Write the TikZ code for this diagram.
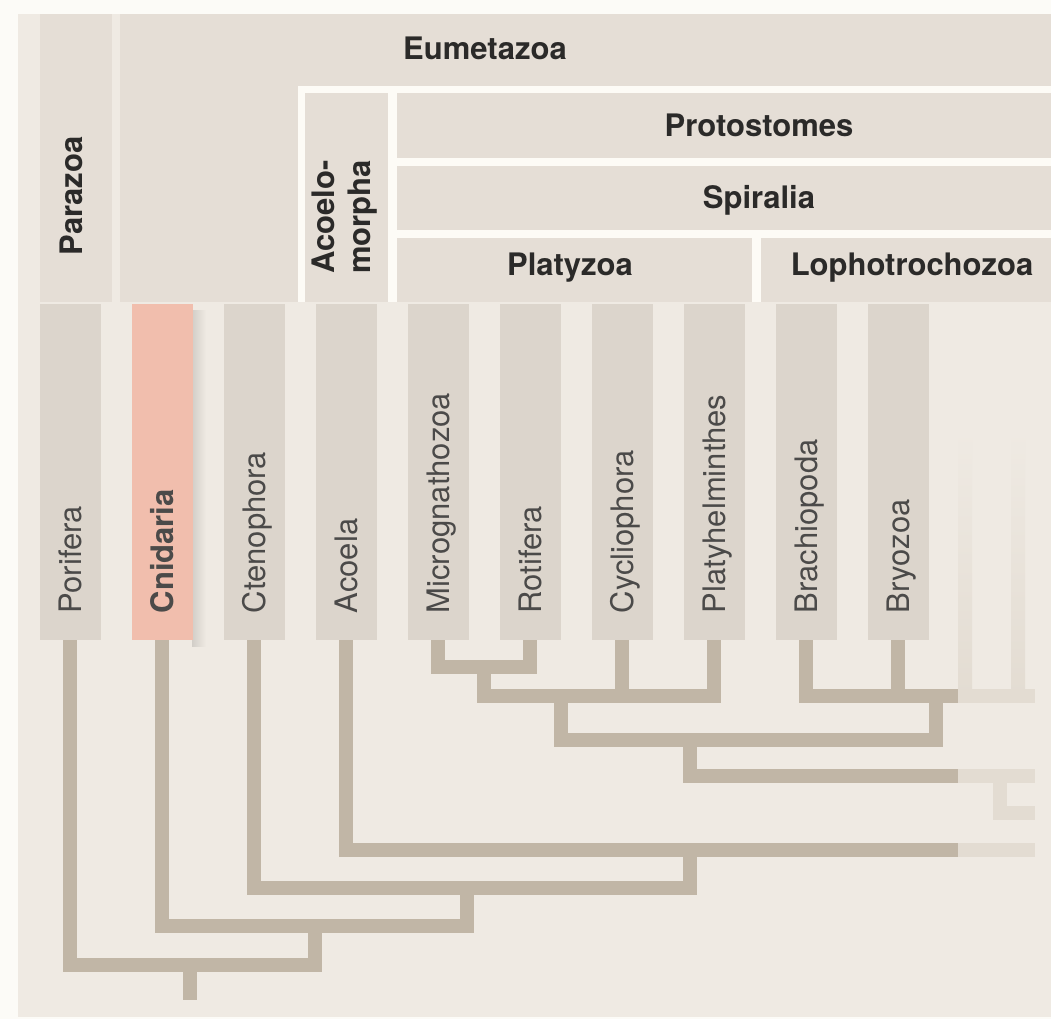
\documentclass[tikz,border=0pt]{standalone}
\usepackage{fontspec}
\setmainfont{TeX Gyre Heros}
\usepackage{tikz}
\definecolor{outerbg}{HTML}{FCFBF7}
\definecolor{panelbg}{HTML}{EFEAE3}
\definecolor{headbg}{HTML}{E5DED6}
\definecolor{taxbg}{HTML}{DCD5CC}
\definecolor{cnidbg}{HTML}{F1BEAD}
\definecolor{sepcol}{HTML}{FDFBF6}
\definecolor{treecol}{HTML}{C1B6A6}
\definecolor{fadecol}{HTML}{E3DCD2}
\definecolor{shadowcol}{HTML}{D2CEC8}
\definecolor{inkcol}{HTML}{2B2A29}
\tikzstyle{taxon}=[fill=taxbg,minimum width=61pt,minimum height=336pt,inner sep=0pt,anchor=north]
\tikzstyle{taxonhi}=[taxon,fill=cnidbg]
\tikzstyle{taxlabel}=[rotate=90,anchor=base west,inner sep=0pt,text=inkcol!85,font=\fontsize{31}{34}\selectfont]
\tikzstyle{clade}=[inner sep=0pt,anchor=base,text=inkcol,font=\fontsize{31}{36}\selectfont\bfseries]
\tikzstyle{branch}=[draw=treecol,line width=14pt,line join=miter]
\tikzstyle{faded}=[draw=fadecol,line width=14pt]

\begin{document}
\begin{tikzpicture}[x=1pt,y=-1pt]
  \useasboundingbox (0,0) rectangle (1051,1019);
  \fill[outerbg] (0,0) rectangle (1051,1019);
  \fill[panelbg] (18,14) rectangle (1051,1017);

  % clade headers
  \fill[headbg] (40,14) rectangle (112,302);
  \fill[headbg] (120,14) rectangle (1051,302);
  \fill[sepcol] (298,86) rectangle (1051,93);
  \fill[sepcol] (298,86) rectangle (305,302);
  \fill[sepcol] (388,93) rectangle (397,302);
  \fill[sepcol] (397,158) rectangle (1051,166);
  \fill[sepcol] (397,230) rectangle (1051,238);
  \fill[sepcol] (752,238) rectangle (761,302);

  \node[clade] (eum) at (485,60) {Eumetazoa};
  \node[clade] (pro) at (759,137) {Protostomes};
  \node[clade] (spi) at (759,208) {Spiralia};
  \node[clade] (pla) at (570,275) {Platyzoa};
  \node[clade] (lop) at (912,275) {Lophotrochozoa};
  \node[clade,rotate=90] (par) at (82,196) {Parazoa};
  \node[clade,rotate=90,anchor=center,align=left] (acm) at (345,217) {Acoelo-\\morpha};

  % taxa
  \shade[left color=shadowcol,right color=panelbg] (192,310) rectangle (206,646);
  \node[taxonhi] (t2) at (162,304) {};
  \node[taxlabel,font=\fontsize{31}{34}\selectfont\bfseries] (l2) at ([xshift=11pt,yshift=27pt]t2.south) {Cnidaria};
  \foreach \i/\lab in {1/Porifera,3/Ctenophora,4/Acoela,5/Micrognathozoa,6/Rotifera,
                       7/Cycliophora,8/Platyhelminthes,9/Brachiopoda,10/Bryozoa}{
    \node[taxon] (t\i) at (70+92*\i-92,304) {};
    \node[taxlabel] (l\i) at ([xshift=11pt,yshift=27pt]t\i.south) {\lab};
  }

  % tree
  \coordinate (mr) at (484,667);
  \coordinate (pz) at (561,696);
  \coordinate (lo) at (936,696);
  \coordinate (sp) at (690,740);
  \coordinate (bi) at (690,850);
  \coordinate (ct) at (467,888);
  \coordinate (cn) at (315,926);
  \coordinate (po) at (190,965);
  \coordinate (root) at (190,1000);
  \coordinate (e1) at (958,696);
  \coordinate (e2) at (958,776);
  \coordinate (e3) at (958,850);
  \coordinate (f1) at (1035,696);
  \coordinate (f2) at (1035,776);
  \coordinate (f3) at (1035,850);
  \coordinate (f4) at (1035,813);
  \coordinate (k2) at (1000,776);

  \shade[top color=panelbg,bottom color=fadecol] (958,430) rectangle (972,696);
  \shade[top color=panelbg,bottom color=fadecol] (1011,430) rectangle (1025,696);
  \draw[faded] (e1) -- (f1);
  \draw[faded] (e2) -- (f2);
  \draw[faded] (k2) |- (f4);
  \draw[faded] (e3) -- (f3);

  \draw[branch] (t5.south) |- (mr) -| (t6.south);
  \draw[branch] (mr) |- (t8.south |- pz) -- (t8.south);
  \draw[branch] (t7.south) -- (t7.south |- pz);
  \draw[branch] (t9.south) |- (e1);
  \draw[branch] (t10.south) -- (t10.south |- lo);
  \draw[branch] (pz) |- (lo |- sp) -- (lo);
  \draw[branch] (sp) |- (e2);
  \draw[branch] (t4.south) |- (e3);
  \draw[branch] (t3.south) |- (bi |- ct) -- (bi);
  \draw[branch] (t2.south) |- (ct |- cn) -- (ct);
  \draw[branch] (t1.south) |- (cn |- po) -- (cn);
  \draw[branch] (po) -- (root);
\end{tikzpicture}
\end{document}
